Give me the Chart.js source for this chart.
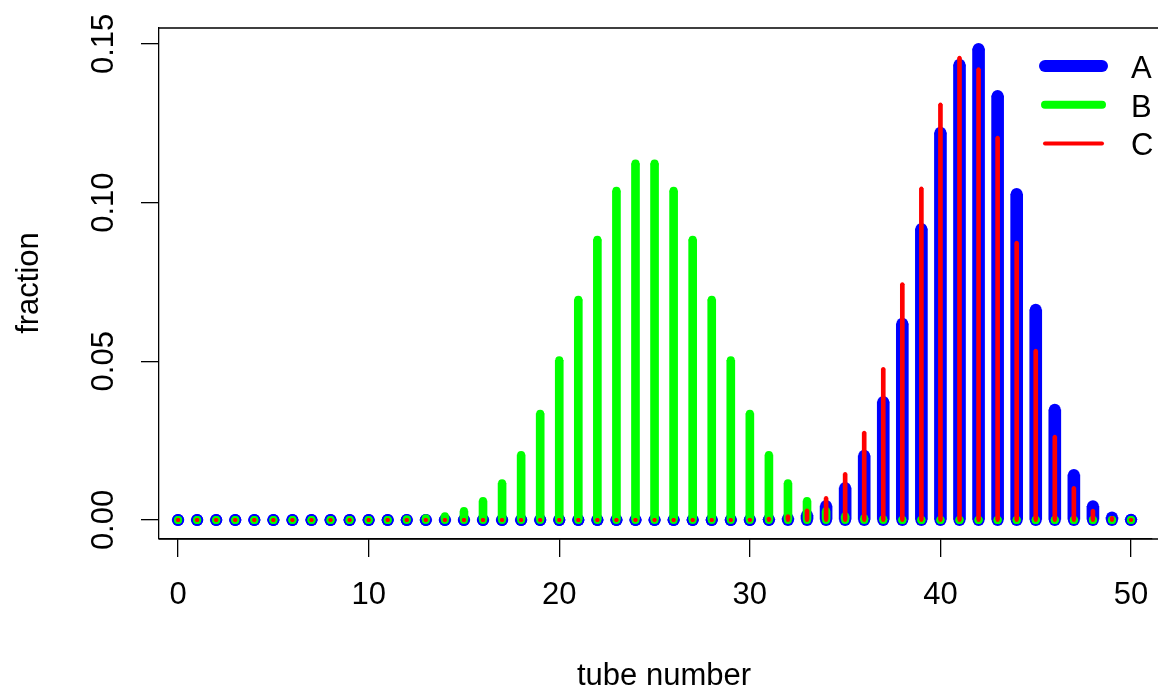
<!DOCTYPE html>
<html>
<head>
<meta charset="utf-8">
<script src="https://cdn.jsdelivr.net/npm/chart.js@4/dist/chart.umd.min.js"></script>
<style>
  html, body { margin: 0; padding: 0; background: #fff; }
</style>
</head>
<body>
<canvas id="chart" width="1158" height="689"></canvas>
<script>
// tube numbers 0..50
const tubes = [0,1,2,3,4,5,6,7,8,9,10,11,12,13,14,15,16,17,18,19,20,21,22,23,24,25,
  26,27,28,29,30,31,32,33,34,35,36,37,38,39,40,41,42,43,44,45,46,47,48,49,50];

// fraction per tube
const fracA = [0,0,0,0,0,0,0,0,0,0,0,0,0,0,0,0,0,0,0,0,0,0,0,0,0,0,
  0,0,0,0,0,0.0001,0.0004,0.0015,0.0044,0.0101,0.0202,0.0372,0.0618,0.0917,0.1220,
  0.1434,0.1484,0.1336,0.1027,0.0662,0.0347,0.0142,0.0043,0.0008,0.0001];
const fracB = [0,0,0,0,0,0,0,0,0,0,0,0,0.0002,0.0005,0.0012,0.0028,0.0060,0.0116,0.0205,0.0335,
  0.0503,0.0694,0.0883,0.1037,0.1123,0.1123,0.1037,0.0883,0.0694,0.0503,0.0335,0.0205,0.0116,
  0.0060,0.0028,0.0012,0.0005,0.0002,0,0,0,0,0,0,0,0,0,0,0,0,0];
const fracC = [0,0,0,0,0,0,0,0,0,0,0,0,0,0,0,0,0,0,0,0,0,0,0,0,0,0,
  0,0,0,0,0.0001,0.0004,0.0012,0.0030,0.0069,0.0145,0.0275,0.0476,0.0743,0.1044,0.1309,
  0.1456,0.1420,0.1204,0.0873,0.0533,0.0262,0.0101,0.0029,0.0006,0.0001];

const seriesNames = ['A', 'B', 'C'];
const seriesColors = ['#0000ff', '#00ff00', '#ff0000'];
const seriesWidths = [12, 8, 4];
const yTicks = [0, 0.05, 0.10, 0.15];
const yTickLabels = ['0.00', '0.05', '0.10', '0.15'];

const FONT = '"Liberation Sans", Arial, Helvetica, sans-serif';

// a type="h" line: flat bar plus round caps at both ends
function spikes(vals, color, w, order) {
  return [
    {
      type: 'bar',
      data: tubes.map((t, i) => ({ x: t, y: vals[i] })),
      backgroundColor: color,
      barThickness: w,
      grouped: false,
      order: order + 1
    },
    {
      type: 'scatter',
      data: tubes.map(t => ({ x: t, y: 0 })).concat(tubes.map((t, i) => ({ x: t, y: vals[i] }))),
      pointRadius: w / 2,
      pointBorderWidth: 0,
      pointBackgroundColor: color,
      backgroundColor: color,
      order: order
    }
  ];
}

const datasets = []
  .concat(spikes(fracA, seriesColors[0], seriesWidths[0], 5))
  .concat(spikes(fracB, seriesColors[1], seriesWidths[1], 3))
  .concat(spikes(fracC, seriesColors[2], seriesWidths[2], 1));

const extras = {
  id: 'extras',
  afterDraw(chart) {
    const ctx = chart.ctx;
    const area = chart.chartArea;
    const ys = chart.scales.y;
    ctx.save();
    // box runs off the right edge
    ctx.strokeStyle = '#000';
    ctx.lineWidth = 1.3;
    ctx.beginPath();
    ctx.moveTo(area.left, area.top);
    ctx.lineTo(chart.width, area.top);
    ctx.moveTo(area.left, area.bottom);
    ctx.lineTo(chart.width, area.bottom);
    ctx.stroke();

    ctx.fillStyle = '#000';
    ctx.font = '31px ' + FONT;
    // rotated y tick labels
    yTicks.forEach((v, i) => {
      ctx.save();
      ctx.translate(113, ys.getPixelForValue(v));
      ctx.rotate(-Math.PI / 2);
      ctx.textAlign = 'center';
      ctx.textBaseline = 'alphabetic';
      ctx.fillText(yTickLabels[i], 0, 0);
      ctx.restore();
    });
    // axis titles
    ctx.save();
    ctx.translate(38, 283);
    ctx.rotate(-Math.PI / 2);
    ctx.textAlign = 'center';
    ctx.fillText('fraction', 0, 0);
    ctx.restore();
    ctx.textAlign = 'center';
    ctx.fillText('tube number', 664, 685);

    // legend
    ctx.lineCap = 'round';
    seriesNames.forEach((name, i) => {
      const y = 66 + i * 38.7;
      ctx.strokeStyle = seriesColors[i];
      ctx.lineWidth = seriesWidths[i];
      ctx.beginPath();
      ctx.moveTo(1045, y);
      ctx.lineTo(1102, y);
      ctx.stroke();
      ctx.textAlign = 'left';
      ctx.fillText(name, 1131, y + 12);
    });
    ctx.restore();
  }
};

new Chart(document.getElementById('chart'), {
  type: 'bar',
  data: { datasets: datasets },
  options: {
    responsive: false,
    devicePixelRatio: 1,
    animation: false,
    events: [],
    layout: { padding: { top: 28, left: 0, right: 0, bottom: 0 } },
    plugins: { legend: { display: false }, tooltip: { enabled: false } },
    scales: {
      x: {
        type: 'linear',
        min: -1,
        max: 51.1,
        offset: false,
        afterFit: s => { s.height = 150; s.paddingLeft = 0; s.paddingRight = 0; },
        ticks: {
          stepSize: 10,
          includeBounds: false,
          maxRotation: 0,
          autoSkip: false,
          padding: 20,
          color: '#000',
          font: { family: FONT, size: 31 }
        },
        grid: { offset: false, drawOnChartArea: false, drawTicks: true, tickLength: 18, color: '#000', lineWidth: 1.3 },
        border: { display: true, color: '#000', width: 1.3 }
      },
      y: {
        min: -0.006,
        max: 0.155,
        afterFit: s => { s.width = 159; s.paddingTop = 0; s.paddingBottom = 0; },
        ticks: { display: false, stepSize: 0.05, includeBounds: false },
        grid: { drawOnChartArea: false, drawTicks: true, tickLength: 18, color: '#000', lineWidth: 1.3 },
        border: { display: true, color: '#000', width: 1.3 }
      }
    }
  },
  plugins: [extras]
});
</script>
</body>
</html>
